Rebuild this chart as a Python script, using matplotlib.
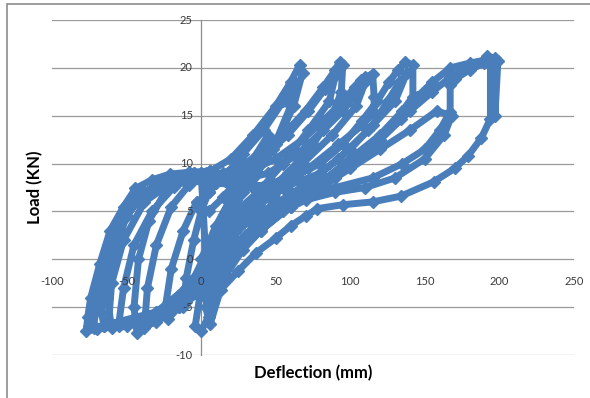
import matplotlib
matplotlib.use("Agg")
import matplotlib.pyplot as plt
from matplotlib.patches import Rectangle

# hysteresis loops, key points (deflection mm, load kN)
c1_x = [0, 10, 22, 35, 45, 47, 40, 28, 15, 5, -5, -15, -22, -24, -20, -12, -3]
c1_y = [0, 3.5, 7, 10.5, 13, 12.5, 10, 7, 4, 1, -2.5, -5, -6.2, -5, -1, 3, 6]

c1b_x = [-3, 5, 15, 25, 30, 28, 18, 8, 0, -8, -12, -10, -5, 0, 5]
c1b_y = [6, 5, 6.5, 8.5, 9.5, 8, 5, 2, -1, -3.5, -5, -2, 2, 5, 7]

c2_x = [5, 6, 20, 35, 50, 60, 66, 68, 62, 50, 35, 20, 8, 0, -10, -25, -38, -43,
        -45, -42, -35, -25, -12, -2]
c2_y = [7, 9.2, 10.5, 13, 16, 18.5, 20.3, 19.5, 16, 12, 8.5, 5, 1.5, -1, -3.5,
        -5.8, -7.2, -7.7, -5, 0, 4, 6.8, 8.3, 8.8]

c2b_x = [5, 15, 28, 42, 55, 63, 60, 48, 33, 18, 6, -5, -18, -30, -38, -36, -30,
         -20, -8, 3]
c2b_y = [7, 8.5, 11, 13.5, 16.5, 18.5, 16, 11.5, 8, 4.5, 0.5, -2.5, -5, -6.5, -7,
         -3, 1.5, 5.5, 7.8, 8.5]

c3_x = [-2, 15, 35, 55, 70, 82, 90, 93, 95, 94, 88, 75, 58, 40, 22, 8, 0, -4, 0,
        5, 3, -10, -30, -50, -60, -63, -58, -50, -38, -22, -5]
c3_y = [8.8, 9, 10.5, 13, 15.5, 18, 19.8, 20.6, 20.3, 17.5, 15, 12, 9, 6.5, 4,
        0.5, -3, -7, -7.5, -6, -3, -4.5, -6.3, -7, -7.2, -4, 1, 4.5, 7, 8.5, 9]

c3b_x = [3, 20, 40, 58, 72, 83, 90, 86, 72, 55, 38, 20, 6, -5, -20, -35, -50, -55,
         -52, -45, -33, -18, -3]
c3b_y = [8.5, 8.8, 10.5, 13, 15.5, 17.8, 19.2, 16.5, 13.5, 10, 7, 4.5, 1.5, -2,
         -4.5, -6, -6.5, -6.5, -3, 1.5, 5, 7.6, 8.7]

c4_x = [-5, 10, 30, 50, 68, 82, 95, 103, 107, 110, 115, 116, 116, 108, 92, 72,
        52, 32, 15, 3, -10, -30, -50, -65, -67, -63, -55, -42, -25, -8]
c4_y = [9, 8.5, 9, 10.5, 12.5, 14.5, 16.5, 18, 18.7, 19, 19.4, 17, 15.4, 14, 12,
        9.5, 7.5, 5, 2, -1.5, -4, -5.5, -6.5, -7, -5.5, -1, 3, 6.5, 8.3, 9]

c4b_x = [-3, 20, 45, 65, 82, 95, 105, 110, 104, 88, 68, 48, 28, 12, 0, -15, -35,
         -55, -62, -60, -52, -38, -20, -5]
c4b_y = [8.7, 8, 9, 11, 13.5, 15.5, 17.5, 18.5, 16, 13, 10, 7.5, 5, 2, -1.5, -4.5,
         -6, -6.8, -6.5, -2.5, 2, 6, 8, 8.8]

c5_x = [-8, 10, 35, 60, 80, 95, 108, 118, 126, 132, 137, 142, 142, 135, 120, 100,
        80, 60, 40, 22, 10, 0, -15, -35, -55, -70, -77, -76, -74, -68, -61, -52,
        -44, -33, -21, -8, 6]
c5_y = [9, 8, 7.5, 8.5, 10, 12, 14.5, 16.5, 18.5, 19.8, 20.6, 20.3, 17, 15.5, 13,
        10.5, 8, 6, 4, 1.5, -1, -3, -5, -6.5, -7, -7.3, -7.5, -6, -4, -0.5, 3,
        5.5, 7.4, 8.3, 8.9, 9.1, 9.2]

c5b_x = [-5, 25, 55, 80, 100, 115, 125, 133, 138, 130, 112, 92, 72, 52, 32, 15,
         2, -12, -30, -50, -65, -72, -70, -64, -55, -42, -25, -10, 3]
c5b_y = [8.8, 7.5, 7.5, 9, 11.5, 14, 16.5, 18.5, 19.5, 16.5, 13.5, 10.5, 8, 6, 4,
         1.5, -2, -4.5, -6, -6.8, -7, -7, -4.5, -0.5, 3.5, 6.5, 8.2, 8.8, 9]

c6_x = [6, 30, 60, 90, 115, 135, 150, 160, 167, 167, 170, 180, 190, 194, 192, 180,
        167, 155, 140, 120, 100, 80, 60, 40, 20, 5, -10, -30, -55, -72, -75, -72,
        -64, -55, -45, -30, -15, 0]
c6_y = [9.2, 8, 7, 7.5, 8.5, 10, 11.5, 13.5, 15.4, 18.2, 18.8, 19.8, 20.5, 20.8,
        20.6, 20.2, 19, 17.5, 15.5, 12.5, 10, 8, 6.5, 5, 2.5, 0, -3, -5.5, -6.5,
        -7.2, -7, -4.5, 0, 3.5, 6, 7.8, 8.7, 9]

c6b_x = [0, 5, 15, 28, 40, 55, 70, 90, 110, 130, 150, 163, 168, 158, 140, 120,
         100, 80, 60, 40, 25, 12, 3]
c6b_y = [9, -5, -2, 1, 3, 5, 6.2, 7, 7.5, 8.5, 10.5, 13, 15, 15.5, 13.5, 11.5,
         9.5, 7.5, 5.5, 3, 1, -1.5, -4]

c7_x = [3, 10, 20, 30, 45, 55, 45, 30, 18, 8, 3, 6, 13, 25, 37, 50, 60, 70, 78,
        95, 115, 134, 156, 170, 179, 188, 194, 194, 192, 197, 199, 197, 197, 190,
        180, 167, 155, 145, 134, 120, 105, 90, 75, 60, 45, 30, 15, 5, 0]
c7_y = [-4, -1, 2, 4, 6.5, 8, 5, 2.5, 0, -2.5, -5, -6.8, -3.2, -1.2, 0.7, 2.2,
        3.5, 4.5, 5.3, 5.7, 6, 6.6, 8.1, 9.5, 10.8, 12.7, 14.7, 20.5, 21.2, 21,
        20.7, 15, 20.5, 20.8, 20.5, 20, 18.5, 17, 14.7, 12.5, 10.5, 8.5, 7, 5.5,
        4, 2.5, 0.5, -1.5, -3]

deflection = (c1_x + c1b_x + c2_x + c2b_x + c3_x + c3b_x + c4_x + c4b_x
              + c5_x + c5b_x + c6_x + c6b_x + c7_x)
load = (c1_y + c1b_y + c2_y + c2b_y + c3_y + c3b_y + c4_y + c4b_y
        + c5_y + c5b_y + c6_y + c6b_y + c7_y)

x_ticks = [-100, -50, 0, 50, 100, 150, 200, 250]
y_ticks = [-10, -5, 0, 5, 10, 15, 20, 25]

plt.rcParams['font.family'] = ['Lato', 'DejaVu Sans']

fig = plt.figure(figsize=(5.9, 3.98), dpi=100)
ax = fig.add_axes([0.0881, 0.108, 0.8847, 0.8417])

# outer chart border
fig.patches.append(Rectangle((0.012, -0.2), 1.5, 1.19, transform=fig.transFigure,
                             fill=False, edgecolor='#8c8c8c', linewidth=1.2))

ax.plot(deflection, load, color='#4a7ebb', linewidth=5, marker='D',
        markersize=6, solid_joinstyle='round', zorder=3)

ax.set_xlim(-100, 250)
ax.set_ylim(-10, 25)
ax.set_xticks(x_ticks)
ax.set_yticks(y_ticks)

for s in ['top', 'right', 'bottom']:
    ax.spines[s].set_visible(False)
ax.spines['left'].set_position(('data', 0))
ax.spines['left'].set_color('#8c8c8c')
ax.spines['left'].set_linewidth(0.9)

ax.yaxis.grid(True, color='#9a9a9a', linewidth=0.9)
ax.set_axisbelow(True)

ax.tick_params(axis='both', length=0)
ax.set_xticklabels([])
ax.set_yticklabels([])
# tick labels sit next to the axes crossing at zero, above the data
for v in x_ticks:
    ax.annotate(str(v), xy=(v, 0), xytext=(0, -16), textcoords='offset points',
                ha='center', va='center', fontsize=8, color='#3a3a3a', zorder=5)
for v in y_ticks:
    ax.annotate(str(v), xy=(0, v), xytext=(-6, 0), textcoords='offset points',
                ha='right', va='center', fontsize=8, color='#3a3a3a', zorder=5)

ax.text(-0.033, 0.5, 'Load (KN)', transform=ax.transAxes, rotation=90,
        ha='center', va='center', fontsize=12, fontweight='bold')
ax.text(0.5, -0.054, 'Deflection (mm)', transform=ax.transAxes,
        ha='center', va='center', fontsize=12, fontweight='bold')

fig.savefig('out.png', dpi=100)
